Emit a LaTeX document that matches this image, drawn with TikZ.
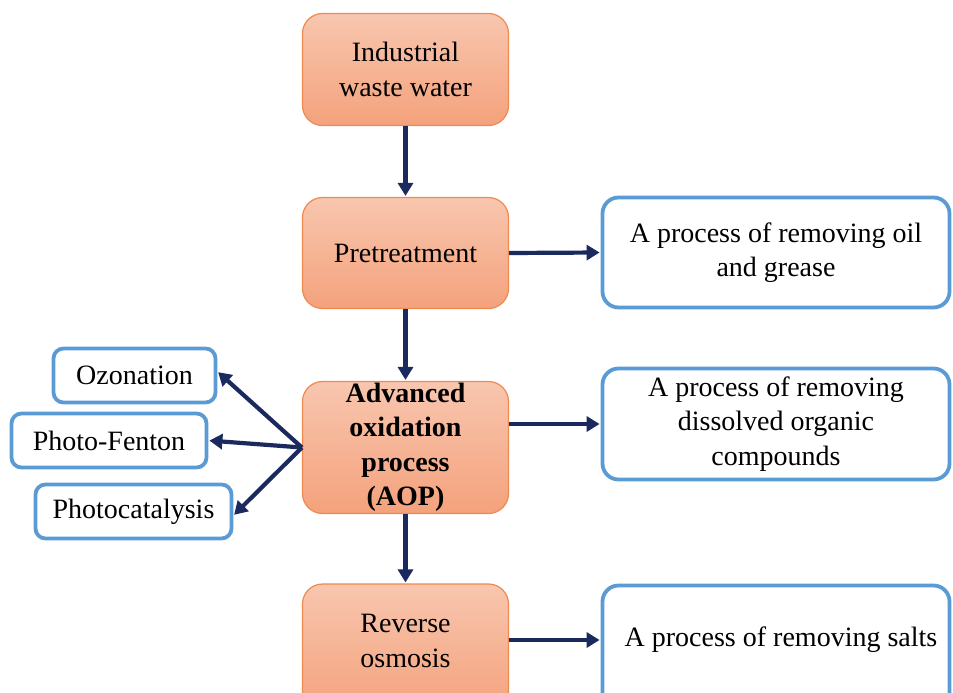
\documentclass[tikz,border=0pt]{standalone}
\usepackage{fontspec}
\setmainfont{Liberation Serif}
\usetikzlibrary{arrows.meta}
\definecolor{orfill1}{HTML}{F8C6AF}
\definecolor{orfill2}{HTML}{F4A27C}
\definecolor{orline}{HTML}{EE8A50}
\definecolor{bluel}{HTML}{5B9BD5}
\definecolor{navy}{HTML}{1B2A5E}
\tikzset{
  obox/.style={draw=orline, line width=1.2pt, rounded corners=20pt, top color=orfill1, bottom color=orfill2,
    align=center, inner sep=0pt, font=\fontsize{28}{34.5}\selectfont},
  bbox/.style={draw=bluel, line width=3.8pt, rounded corners=16pt, fill=white,
    align=center, inner sep=0pt, font=\fontsize{28}{34.5}\selectfont},
  sbox/.style={draw=bluel, line width=3.8pt, rounded corners=10pt, fill=white,
    align=center, inner sep=0pt, font=\fontsize{28}{30}\selectfont},
  arr/.style={draw=navy, line width=4.2pt, -{Triangle[length=13pt,width=15pt]}, shorten >=1pt},
}
\begin{document}
\begin{tikzpicture}[x=1pt,y=-1pt]
\useasboundingbox (0,0) rectangle (953,693);
\clip (0,0) rectangle (953,693);
\fill[white] (0,0) rectangle (953,693);
% orange process boxes
\node[obox, minimum width=206pt, minimum height=112pt] (iww) at (405.5,69.5) {Industrial\\waste water};
\node[obox, minimum width=206pt, minimum height=111pt] (pre) at (405.5,253) {Pretreatment};
\node[obox, minimum width=206pt, minimum height=132pt] (aop) at (405.5,447.5) {\textbf{Advanced}\\\textbf{oxidation}\\\textbf{process}\\\textbf{(AOP)}};
\node[obox, minimum width=206pt, minimum height=128pt, text depth=0pt] (ro) at (405.5,648) {};
\node[font=\fontsize{28}{34.5}\selectfont, align=center] (rot) at (405.5,641) {Reverse\\osmosis};
% right description boxes
\node[bbox, minimum width=347pt, minimum height=110pt] (oil) at (776,252.5) {A process of removing oil\\and grease};
\node[bbox, minimum width=347pt, minimum height=111pt] (org) at (776,424) {A process of removing\\dissolved organic\\compounds};
\node[bbox, minimum width=347pt, minimum height=125pt] (salt) at (776,648) {};
\node[font=\fontsize{28}{34.5}\selectfont] (saltt) at (781,640) {A process of removing salts};
% left AOP types
\node[sbox, minimum width=162pt, minimum height=54pt] (oz) at (134.5,375.5) {Ozonation};
\node[sbox, minimum width=195pt, minimum height=54pt] (pf) at (109,440.5) {Photo-Fenton};
\node[sbox, minimum width=196pt, minimum height=54pt] (pc) at (133.5,511.5) {Photocatalysis};
% connectors
\draw[arr] (iww.south) -- (pre.north);
\draw[arr] (pre.south) -- (aop.north);
\draw[arr] (aop.south) -- (ro.north);
\draw[arr] (pre.east) -- (oil.west);
\draw[arr] (aop.east |- org.west) -- (org.west);
\draw[arr] (ro.east |- saltt) -- (salt.west |- saltt);
\draw[arr] (aop.west) -- ([yshift=4pt]oz.east);
\draw[arr] (aop.west) -- (pf.east);
\draw[arr] (aop.west) -- ([yshift=-4pt]pc.east);
\end{tikzpicture}
\end{document}
